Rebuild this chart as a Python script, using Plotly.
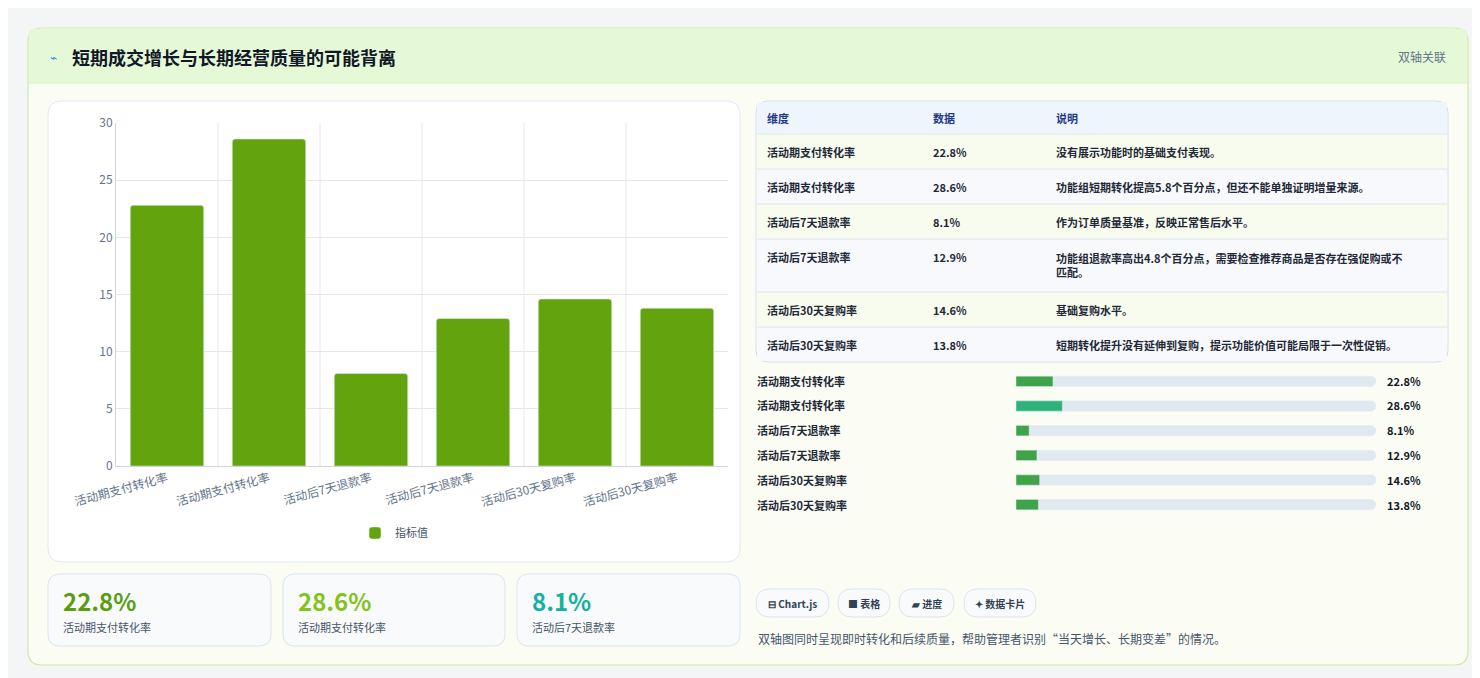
import plotly.graph_objects as go

W, H = 1480, 678

# data
categories = ["活动期支付转化率", "活动期支付转化率", "活动后7天退款率", "活动后7天退款率", "活动后30天复购率", "活动后30天复购率"]
values = [22.8, 28.6, 8.1, 12.9, 14.6, 13.8]
notes = ["没有展示功能时的基础支付表现。",
         "功能组短期转化提高5.8个百分点，但还不能单独证明增量来源。",
         "作为订单质量基准，反映正常售后水平。",
         "功能组退款率高出4.8个百分点，需要检查推荐商品是否存在强促购或不<br>匹配。",
         "基础复购水平。",
         "短期转化提升没有延伸到复购，提示功能价值可能局限于一次性促销。"]
kpi_colors = ["#5a9e0f", "#84c31a", "#14b0a0"]
pills = ["⊟ Chart.js", "■ 表格", "▰ 进度", "✦ 数据卡片"]

FONT = "Noto Sans CJK SC"


def px(x):
    return x / W


def py(y):
    return 1 - y / H


def rrect(x0, y0, x1, y1, r, fill, line="rgba(0,0,0,0)", lw=1):
    rx, ry = r / W, r / H
    a0, a1, b0, b1 = px(x0), px(x1), py(y1), py(y0)
    p = (f"M{a0+rx},{b0} L{a1-rx},{b0} Q{a1},{b0} {a1},{b0+ry} L{a1},{b1-ry} Q{a1},{b1} {a1-rx},{b1} "
         f"L{a0+rx},{b1} Q{a0},{b1} {a0},{b1-ry} L{a0},{b0+ry} Q{a0},{b0} {a0+rx},{b0} Z")
    return dict(type="path", path=p, xref="paper", yref="paper", fillcolor=fill,
                line=dict(color=line, width=lw), layer="below")


def rect(x0, y0, x1, y1, fill, line="rgba(0,0,0,0)"):
    return dict(type="rect", xref="paper", yref="paper", x0=px(x0), x1=px(x1), y0=py(y1), y1=py(y0),
                fillcolor=fill, line=dict(color=line, width=1), layer="below")


def text(x, y, s, size=11, color="#1f2937", bold=False, xa="left", ya="middle"):
    return dict(x=px(x), y=py(y), xref="paper", yref="paper", text=f"<b>{s}</b>" if bold else s,
                showarrow=False, xanchor=xa, yanchor=ya, align="left",
                font=dict(size=size, color=color, family=FONT))


shapes, anns = [], []
# outer card
shapes.append(rrect(20, 20, 1460, 657, 14, "#fbfdf4", "#cde9a4", 1.2))
shapes.append(rect(21, 21, 1459, 75, "#e6f9d6"))
shapes.append(dict(type="line", xref="paper", yref="paper", x0=px(21), x1=px(1459), y0=py(75), y1=py(75),
                   line=dict(color="#d7ecc4", width=1)))
anns.append(text(40, 49, "⌁", 12, "#3b82f6"))
anns.append(text(62, 49, "短期成交增长与长期经营质量的可能背离", 18, "#111827", True))
anns.append(text(1440, 49, "双轴关联", 12, "#64748b", xa="right"))

# chart card
shapes.append(rrect(40, 93, 732, 554, 14, "#ffffff", "#e2e8f0"))

# table
shapes.append(rrect(748, 93, 1440, 354, 12, "#ffffff", "#d5dde8"))
shapes.append(rect(749, 94, 1439, 126, "#eef5fd"))
row_y = [126, 161, 196, 231, 284, 319, 354]
for i in range(6):
    shapes.append(rect(749, row_y[i], 1439, row_y[i + 1] - (1 if i == 5 else 0),
                       "#f8fcee" if i % 2 == 0 else "#f7f9fc"))
    shapes.append(dict(type="line", xref="paper", yref="paper", x0=px(749), x1=px(1439),
                       y0=py(row_y[i]), y1=py(row_y[i]), line=dict(color="#dfe6ee", width=1)))
for cx, h in zip([757, 923, 1046], ["维度", "数据", "说明"]):
    anns.append(text(cx, 110, h, 11, "#1e3a8a", True))
for i in range(6):
    y = row_y[i] + 18
    anns.append(text(757, y, categories[i], 11, "#1f2937", True))
    anns.append(text(923, y, f"{values[i]}%", 11, "#1f2937", True))
    if i == 3:
        anns.append(text(1046, row_y[i] + 9, notes[i], 11, "#1f2937", True, ya="top"))
    else:
        anns.append(text(1046, y, notes[i], 11, "#1f2937", True))

# progress labels
prog_y = [373, 397, 422, 447, 472, 497]
for i in range(6):
    anns.append(text(747, prog_y[i], categories[i], 11, "#1f2937", True))
    anns.append(text(1377, prog_y[i], f"{values[i]}%", 11, "#111827", True))

# KPI cards
for i, (x0, x1) in enumerate([(40, 263), (275, 497), (509, 732)]):
    shapes.append(rrect(x0, 566, x1, 638, 12, "#f8fafc", "#dbe4ee"))
    anns.append(text(x0 + 13, 592, f"{values[i]}%", 24, kpi_colors[i], True))
    anns.append(text(x0 + 13, 619, categories[i], 11, "#475569"))

# pills
for (x0, x1), s in zip([(748, 821), (830, 882), (891, 946), (956, 1028)], pills):
    shapes.append(rrect(x0, 581, x1, 609, 14, "#f8fafc", "#dbe4ee"))
    anns.append(text((x0 + x1) / 2, 595, s, 10, "#334155", True, xa="center"))
anns.append(text(748, 630, "双轴图同时呈现即时转化和后续质量，帮助管理者识别“当天增长、长期变差”的情况。", 12, "#475569"))

fig = go.Figure()
fig.add_trace(go.Bar(x=list(range(6)), y=values, name="指标值", marker=dict(color="#62a30e", cornerradius=3),
                     width=0.72, hoverinfo="y"))
# progress tracks and fills
fig.add_trace(go.Bar(y=list(range(6)), x=[222] * 6, orientation="h", xaxis="x2", yaxis="y2",
                     marker=dict(color="#e2e8f0", cornerradius=5), width=0.42, showlegend=False, hoverinfo="skip"))
fig.add_trace(go.Bar(y=list(range(6)), x=values, orientation="h", xaxis="x2", yaxis="y2",
                     marker=dict(color=["#3fa34a", "#2fb27a", "#3fa34a", "#3fa34a", "#3fa34a", "#3fa34a"],
                                 cornerradius=5), width=0.42, showlegend=False))

fig.update_layout(
    width=W, height=H, margin=dict(l=0, r=0, t=0, b=0, autoexpand=False),
    paper_bgcolor="#f5f6f7", plot_bgcolor="rgba(0,0,0,0)", barmode="overlay",
    font=dict(family=FONT, color="#64748b"),
    shapes=[rect(0, 0, W, H, "#f4f5f6")] + shapes, annotations=anns,
    xaxis=dict(domain=[px(108), px(720)], range=[-0.5, 5.5], tickmode="array", tickvals=list(range(6)),
               ticktext=categories, tickangle=-15, showgrid=False, zeroline=False, automargin=False,
               showline=True, linecolor="#d1d5db", tickfont=dict(size=12, color="#64748b")),
    yaxis=dict(domain=[py(458), py(115)], range=[0, 30], dtick=5, gridcolor="#e5e7eb", automargin=False,
               showline=True, linecolor="#d1d5db", zeroline=False, tickfont=dict(size=12, color="#64748b")),
    xaxis2=dict(domain=[px(1008), px(1368)], range=[0, 222], visible=False, anchor="y2"),
    yaxis2=dict(domain=[py(509), py(361)], range=[5.5, -0.5], visible=False, anchor="x2"),
    legend=dict(orientation="h", x=px(386), xanchor="center", y=py(525), yanchor="middle",
                font=dict(size=11, color="#475569"), bgcolor="rgba(0,0,0,0)"),
    bargap=0.28,
)
# vertical gridlines between categories
for k in range(1, 6):
    fig.add_shape(type="line", xref="x", yref="y", x0=k - 0.5, x1=k - 0.5, y0=0, y1=30,
                  line=dict(color="#e5e7eb", width=1), layer="below")

fig.write_html("out.html")
